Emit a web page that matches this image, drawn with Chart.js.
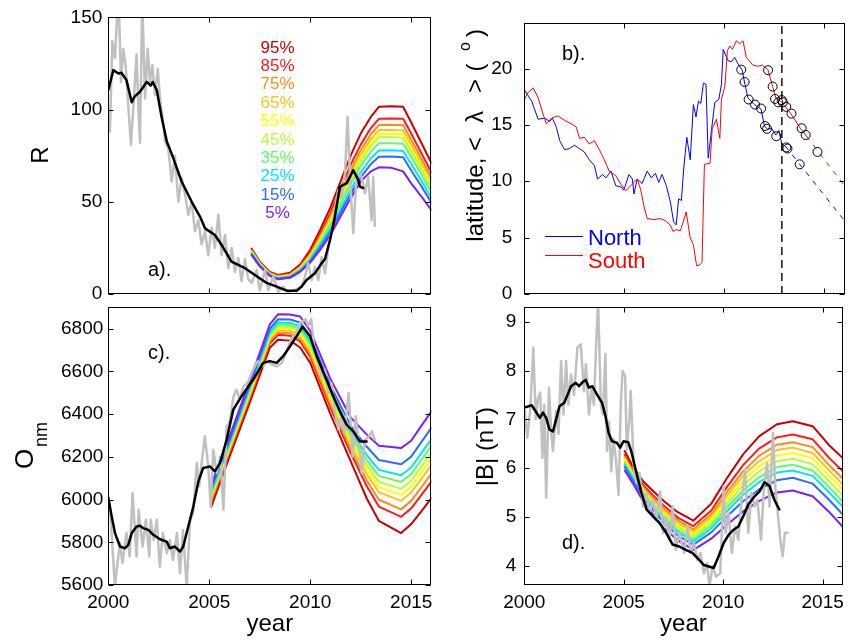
<!DOCTYPE html>
<html>
<head>
<meta charset="utf-8">
<script src="https://cdn.jsdelivr.net/npm/chart.js@4.4.1/dist/chart.umd.min.js"></script>
<style>
html, body { margin: 0; padding: 0; background: #fff; }
#wrap { position: relative; width: 850px; height: 644px; }
canvas { position: absolute; left: 0; top: 0; }
</style>
</head>
<body>
<div id="wrap">
<canvas id="ca" width="850" height="644"></canvas>
<canvas id="cb" width="850" height="644"></canvas>
<canvas id="cc" width="850" height="644"></canvas>
<canvas id="cd" width="850" height="644"></canvas>
</div>
<script>
// ---- data ----
const xTicks = [2000, 2005, 2010, 2015];
const pctLabels = ['5%', '15%', '25%', '35%', '45%', '55%', '65%', '75%', '85%', '95%'];
const pctColors = ['#7f1fff', '#2e6dff', '#00e5ff', '#5cff5c', '#b8ff33', '#ffff00', '#ffc21a', '#ff8c1a', '#ff1a1a', '#cc0000'];

// a) sunspot number R
const aTicks = [0, 50, 100, 150];
const aGray = [[2000.00,100],[2000.08,88],[2000.20,137],[2000.33,128],[2000.50,165],[2000.63,115],[2000.74,133],[2000.86,124],[2000.99,102],[2001.12,81],[2001.24,101],[2001.40,130],[2001.49,101],[2001.57,82],[2001.68,160],[2001.82,106],[2001.95,133],[2002.06,115],[2002.18,124],[2002.31,108],[2002.45,122],[2002.56,106],[2002.67,97],[2002.81,83],[2002.97,79],[2003.14,61],[2003.30,75],[2003.47,50],[2003.63,63],[2003.80,54],[2003.96,43],[2004.13,50],[2004.29,34],[2004.46,40],[2004.62,27],[2004.79,34],[2004.95,21],[2005.12,36],[2005.28,25],[2005.45,43],[2005.61,21],[2005.78,32],[2005.94,14],[2006.11,25],[2006.27,12],[2006.44,19.5],[2006.60,7],[2006.77,19],[2006.93,8],[2007.10,6],[2007.35,13],[2007.50,2],[2007.76,13],[2007.92,2],[2008.17,9.4],[2008.42,1.2],[2008.66,4],[2008.91,1.2],[2009.24,2.2],[2009.57,4],[2009.74,9.4],[2009.90,16.6],[2010.07,7.6],[2010.23,14.7],[2010.40,7.6],[2010.56,20],[2010.73,11.2],[2010.90,25.6],[2011.06,34.7],[2011.22,45.5],[2011.39,56.4],[2011.55,52],[2011.72,65.4],[2011.85,96],[2012.00,56.4],[2012.13,33],[2012.30,65.4],[2012.54,63.6],[2012.71,54.6],[2012.87,63.6],[2013.04,40],[2013.12,63.6],[2013.20,37]];
const aBlack = [[2000.00,110.6],[2000.25,121.4],[2000.50,119.6],[2000.65,120],[2000.90,116],[2001.16,104],[2001.30,107],[2001.57,109.7],[2001.90,115],[2002.10,113],[2002.20,115],[2002.40,110.6],[2002.64,96],[2002.90,82.6],[2003.14,76],[2003.63,61],[2004.13,50],[2004.54,42],[2004.79,35.6],[2005.28,32],[2005.61,26.6],[2006.10,17.5],[2006.77,14],[2007.26,10.3],[2007.84,6],[2008.34,4],[2008.83,1.8],[2009.33,1.8],[2009.57,4],[2009.82,7.6],[2010.23,11.2],[2010.56,16.6],[2010.73,19],[2010.98,29.3],[2011.22,41.9],[2011.47,58.2],[2011.80,60],[2011.97,63.6],[2012.13,67.2],[2012.38,61.8],[2012.46,58.2],[2012.62,57.5]];
const aYrs = [2007.1, 2007.5, 2008.0, 2008.4, 2009.0, 2009.5, 2010.0, 2010.5, 2011.0, 2011.5, 2012.0, 2012.5, 2013.0, 2013.4, 2014.0, 2014.6, 2015.0, 2015.5, 2016.0];
const a05 = [21.0, 15.0, 9.8, 8.0, 8.8, 12.0, 17.0, 24.0, 32.0, 42.0, 52.0, 61.0, 66.5, 68.7, 68.5, 66.5, 60.0, 53.0, 45.5];
const a15 = [21.5, 15.3, 10.0, 8.3, 9.1, 12.4, 17.8, 25.4, 34.0, 44.2, 54.3, 63.3, 70.4, 74.4, 74.5, 74.2, 67.0, 58.5, 49.5];
const a25 = [21.9, 15.5, 10.2, 8.5, 9.3, 12.8, 18.5, 26.6, 35.6, 46.0, 56.6, 66.0, 73.5, 77.8, 77.9, 77.5, 70.5, 61.5, 52.0];
const a35 = [22.3, 15.8, 10.4, 8.7, 9.6, 13.2, 19.3, 27.9, 37.5, 48.4, 59.6, 69.5, 77.2, 81.7, 81.8, 81.5, 74.4, 65.0, 55.0];
const a45 = [22.6, 16.1, 10.6, 8.9, 9.9, 13.6, 20.0, 29.0, 39.0, 50.3, 62.0, 72.3, 80.3, 85.0, 85.1, 84.8, 77.4, 67.8, 57.5];
const a55 = [22.9, 16.3, 10.8, 9.1, 10.1, 13.9, 20.4, 29.6, 39.8, 51.4, 63.3, 73.7, 82.0, 86.8, 86.9, 86.6, 79.0, 69.2, 59.0];
const a65 = [23.2, 16.5, 11.0, 9.3, 10.3, 14.2, 20.9, 30.4, 40.8, 52.7, 65.0, 75.5, 84.0, 88.9, 89.0, 88.7, 81.0, 71.0, 61.0];
const a75 = [23.6, 16.8, 11.3, 9.6, 10.6, 14.6, 21.6, 31.4, 42.2, 54.5, 67.0, 78.0, 86.5, 91.6, 91.8, 91.5, 83.5, 73.5, 63.0];
const a85 = [24.0, 17.1, 11.6, 9.9, 11.0, 15.2, 22.6, 32.8, 44.0, 57.0, 70.0, 81.0, 90.0, 95.0, 95.2, 95.0, 87.0, 76.5, 66.0];
const a95 = [24.5, 17.5, 12.0, 10.3, 11.5, 16.0, 24.0, 35.0, 47.0, 61.0, 75.0, 87.0, 96.0, 101.5, 101.8, 101.5, 93.0, 82.0, 71.0];

// b) mean latitude
const bTicks = [0, 5, 10, 15, 20];
const bNorth = [[2000.00,18.12],[2000.37,17.1],[2000.69,15.5],[2001.02,15.6],[2001.27,15.3],[2001.40,15.6],[2001.60,14.8],[2001.77,13.6],[2002.01,12.8],[2002.26,12.9],[2002.50,13.2],[2002.75,12.9],[2003.00,12.6],[2003.25,11.9],[2003.50,11.4],[2003.66,10.2],[2003.91,10.6],[2004.08,10.3],[2004.33,10.9],[2004.57,9.6],[2004.82,9.5],[2004.97,9.2],[2005.23,10.6],[2005.40,10.2],[2005.48,8.87],[2005.64,10.2],[2005.89,9.8],[2006.14,10.9],[2006.35,10.3],[2006.55,10.7],[2006.72,9.9],[2006.88,10.6],[2007.10,9.6],[2007.30,8.15],[2007.46,6.4],[2007.59,6.13],[2007.71,8.44],[2007.85,8.3],[2007.96,11.0],[2008.12,13.9],[2008.29,11.9],[2008.45,16.8],[2008.58,15.7],[2008.70,17.1],[2008.82,16.9],[2008.95,18.7],[2009.08,18.6],[2009.19,12.05],[2009.36,14.65],[2009.52,17.0],[2009.72,17.25],[2009.85,18.6],[2009.94,21.7],[2010.18,20.7],[2010.35,20.6],[2010.51,21.0],[2010.68,20.4],[2010.89,19.85],[2011.00,18.8],[2011.17,17.4],[2011.50,16.8],[2011.83,16.4],[2012.00,14.9],[2012.16,14.6],[2012.35,14.7],[2012.57,14.1],[2012.72,14.5],[2012.87,13.3],[2013.05,13.1]];
const bNorthFc = [[2013.05,13.1],[2016.0,6.5]];
const bSouth = [[2000.00,17.25],[2000.20,17.9],[2000.45,18.27],[2000.69,17.4],[2000.94,15.95],[2001.10,15.1],[2001.36,15.6],[2001.68,15.8],[2002.01,15.4],[2002.35,15.1],[2002.60,14.8],[2002.76,13.8],[2003.00,13.9],[2003.25,13.3],[2003.50,13.6],[2003.75,12.8],[2004.00,11.9],[2004.24,10.9],[2004.57,10.5],[2004.82,9.74],[2005.07,9.16],[2005.32,9.6],[2005.64,10.2],[2005.81,9.3],[2005.97,7.86],[2006.14,6.7],[2006.47,6.6],[2006.80,6.7],[2007.05,6.5],[2007.30,6.1],[2007.43,5.55],[2007.60,5.7],[2007.80,5.6],[2008.09,7.28],[2008.29,4.97],[2008.45,4.4],[2008.61,2.5],[2008.78,2.6],[2008.88,2.8],[2009.00,11.5],[2009.28,11.6],[2009.39,14.65],[2009.60,15.5],[2009.77,13.8],[2009.85,17.25],[2010.02,18.4],[2010.15,21.6],[2010.27,22.0],[2010.40,21.7],[2010.60,22.45],[2010.75,22.2],[2010.93,22.45],[2011.09,21.0],[2011.42,20.3],[2011.67,20.2],[2011.90,20.3],[2012.17,19.9],[2012.41,18.4],[2012.57,17.4],[2012.82,17.1],[2013.00,16.7],[2013.32,16.0],[2013.81,14.65],[2014.10,14.0]];
const bSouthFc = [[2014.10,14.0],[2016.0,9.6]];
const bCircN = [[2010.84,19.9],[2011.01,18.8],[2011.21,17.25],[2011.53,16.8],[2011.83,16.45],[2012.03,14.9],[2012.13,14.65],[2012.59,14.0],[2013.09,13.0],[2013.15,12.9],[2013.76,11.5]];
const bCircS = [[2012.18,19.85],[2012.41,18.4],[2012.53,17.3],[2012.69,17.0],[2012.86,17.2],[2012.92,17.0],[2013.09,16.6],[2013.35,16.0],[2013.86,14.7],[2014.06,14.1],[2014.65,12.6]];
const bNow = 2012.87;

// c) neutron monitor count
const cTicks = [5600, 5800, 6000, 6200, 6400, 6600, 6800];
const cGray = [[2000.00,5990],[2000.10,5936],[2000.33,5590],[2000.45,5700],[2000.58,5796],[2000.70,5703],[2000.90,5843],[2001.06,5734],[2001.20,6030],[2001.40,5734],[2001.50,5952],[2001.70,5780],[2001.86,5905],[2002.03,5734],[2002.10,5905],[2002.25,5811],[2002.40,5905],[2002.55,5686],[2002.70,5843],[2002.90,5749],[2003.05,5811],[2003.20,5717],[2003.40,5843],[2003.55,5655],[2003.70,5858],[2003.88,5590],[2004.05,5905],[2004.20,5936],[2004.38,6171],[2004.50,6062],[2004.60,6155],[2004.78,6296],[2004.95,6155],[2005.07,5967],[2005.20,6233],[2005.37,6124],[2005.55,6202],[2005.70,5952],[2005.86,6343],[2006.00,6358],[2006.20,6484],[2006.35,6515],[2006.50,6468],[2006.70,6531],[2006.90,6546],[2007.18,6609],[2007.40,6648],[2007.67,6624],[2007.85,6648],[2008.10,6632],[2008.35,6624],[2008.60,6640],[2008.80,6687],[2009.05,6750],[2009.30,6781],[2009.50,6828],[2009.77,6844],[2009.90,6812],[2010.05,6844],[2010.20,6703],[2010.40,6640],[2010.55,6578],[2010.72,6609],[2010.90,6499],[2011.05,6546],[2011.20,6421],[2011.40,6327],[2011.55,6390],[2011.70,6311],[2011.90,6499],[2012.10,6202],[2012.25,6390],[2012.45,6233],[2012.55,6124],[2012.72,6280],[2012.90,6296],[2013.05,6319],[2013.20,6280]];
const cBlack = [[2000.00,6010],[2000.17,5920],[2000.33,5843],[2000.58,5780],[2000.83,5772],[2000.99,5788],[2001.16,5843],[2001.40,5874],[2001.57,5877],[2001.73,5866],[2001.98,5858],[2002.23,5835],[2002.56,5814],[2002.89,5803],[2003.05,5772],[2003.30,5780],[2003.55,5756],[2003.71,5780],[2003.96,5874],[2004.21,5967],[2004.46,6085],[2004.70,6148],[2005.03,6155],[2005.28,6132],[2005.53,6171],[2005.86,6280],[2006.19,6421],[2006.60,6484],[2007.18,6562],[2007.67,6640],[2008.00,6648],[2008.34,6640],[2008.66,6671],[2009.00,6718],[2009.33,6765],[2009.62,6809],[2009.99,6765],[2010.32,6671],[2010.73,6578],[2011.14,6484],[2011.47,6413],[2011.80,6351],[2012.13,6319],[2012.46,6272],[2012.79,6272]];
const cYrs = [2005.1, 2006, 2007, 2008, 2008.4, 2009, 2009.5, 2010, 2011, 2012, 2012.8, 2013.4, 2014.5, 2015, 2015.5, 2016];
const c05 = [6069, 6295, 6553, 6820, 6867, 6866, 6857, 6790, 6565, 6385, 6304, 6252, 6241, 6275, 6345, 6413];
const c15 = [6050, 6277, 6534, 6799, 6844, 6843, 6829, 6762, 6534, 6346, 6247, 6185, 6165, 6201, 6269, 6336];
const c25 = [6036, 6265, 6521, 6785, 6829, 6827, 6811, 6742, 6512, 6319, 6208, 6139, 6114, 6150, 6217, 6283];
const c35 = [6028, 6257, 6513, 6776, 6819, 6817, 6799, 6730, 6499, 6303, 6184, 6111, 6082, 6119, 6185, 6251];
const c45 = [6020, 6249, 6505, 6768, 6810, 6807, 6787, 6718, 6486, 6287, 6160, 6083, 6050, 6088, 6153, 6218];
const c55 = [6013, 6243, 6497, 6760, 6802, 6799, 6777, 6708, 6474, 6272, 6140, 6058, 6022, 6060, 6125, 6190];
const c65 = [6006, 6236, 6490, 6752, 6793, 6790, 6767, 6697, 6463, 6258, 6119, 6034, 5994, 6033, 6097, 6161];
const c75 = [5996, 6227, 6480, 6742, 6781, 6778, 6753, 6682, 6446, 6237, 6089, 5999, 5954, 5994, 6057, 6121];
const c85 = [5986, 6218, 6471, 6732, 6771, 6767, 6740, 6669, 6431, 6219, 6062, 5967, 5919, 5959, 6021, 6084];
const c95 = [5967, 6200, 6452, 6711, 6748, 6744, 6712, 6640, 6400, 6180, 6005, 5900, 5843, 5885, 5945, 6007];

// d) interplanetary field |B|
const dTicks = [4, 5, 6, 7, 8, 9];
const dGray = [[2000.00,7.0],[2000.03,7.17],[2000.15,6.62],[2000.30,7.2],[2000.45,8.47],[2000.58,7.0],[2000.69,7.44],[2000.80,7.55],[2000.91,6.21],[2001.00,7.3],[2001.10,5.39],[2001.24,7.65],[2001.35,6.76],[2001.44,6.35],[2001.60,7.17],[2001.72,6.7],[2001.85,8.2],[2001.97,7.1],[2002.10,8.2],[2002.22,7.3],[2002.35,7.92],[2002.50,7.5],[2002.67,8.47],[2002.84,8.54],[2003.00,7.58],[2003.10,8.13],[2003.25,7.1],[2003.38,7.65],[2003.50,7.3],[2003.61,8.54],[2003.71,9.4],[2003.85,7.3],[2003.95,7.1],[2004.08,8.34],[2004.16,6.35],[2004.26,6.95],[2004.37,5.93],[2004.48,6.6],[2004.60,6.2],[2004.74,5.45],[2004.85,7.31],[2004.94,7.99],[2005.07,7.89],[2005.15,6.38],[2005.28,7.0],[2005.35,7.58],[2005.50,6.05],[2005.64,5.7],[2005.80,5.9],[2005.97,5.21],[2006.14,5.49],[2006.30,5.08],[2006.47,5.35],[2006.63,4.94],[2006.83,5.52],[2006.97,4.67],[2007.13,5.0],[2007.30,4.53],[2007.46,5.21],[2007.62,4.32],[2007.79,4.67],[2008.04,4.26],[2008.20,4.8],[2008.37,4.26],[2008.53,4.46],[2008.70,4.12],[2008.86,4.26],[2009.03,3.84],[2009.20,4.05],[2009.30,3.55],[2009.47,3.98],[2009.64,3.77],[2009.85,3.84],[2010.02,5.63],[2010.12,4.67],[2010.27,5.08],[2010.43,4.26],[2010.60,4.8],[2010.76,4.53],[2010.92,5.35],[2011.10,5.97],[2011.26,4.67],[2011.42,5.49],[2011.58,5.21],[2011.72,5.35],[2011.90,4.53],[2012.05,5.63],[2012.21,6.11],[2012.33,5.21],[2012.50,6.72],[2012.62,5.63],[2012.74,5.08],[2012.87,4.53],[2012.99,4.19],[2013.10,4.67],[2013.24,4.67]];
const dBlack = [[2000.00,7.24],[2000.37,7.29],[2000.61,7.14],[2000.78,7.03],[2000.94,7.14],[2001.10,7.03],[2001.27,6.79],[2001.44,6.75],[2001.60,7.0],[2001.77,7.27],[2002.01,7.34],[2002.18,7.51],[2002.35,7.68],[2002.59,7.75],[2002.75,7.68],[2002.92,7.76],[2003.09,7.81],[2003.25,7.65],[2003.42,7.68],[2003.66,7.51],[2003.91,7.34],[2004.08,7.07],[2004.24,6.72],[2004.41,6.55],[2004.65,6.52],[2004.82,6.42],[2004.99,6.55],[2005.23,6.53],[2005.40,6.31],[2005.64,5.9],[2005.89,5.49],[2006.14,5.15],[2006.47,5.01],[2006.80,4.87],[2007.13,4.67],[2007.46,4.43],[2007.79,4.39],[2008.12,4.32],[2008.45,4.26],[2008.78,4.12],[2009.03,4.01],[2009.28,3.98],[2009.52,3.95],[2009.77,4.19],[2010.02,4.46],[2010.27,4.63],[2010.51,4.73],[2010.76,4.8],[2011.01,5.01],[2011.26,5.25],[2011.58,5.42],[2011.83,5.52],[2012.08,5.71],[2012.33,5.63],[2012.57,5.35],[2012.82,5.15]];
const dYrs = [2005.05, 2005.5, 2006, 2006.5, 2007, 2007.7, 2008.5, 2009.4, 2010.2, 2011, 2011.8, 2012.7, 2013.5, 2014.5, 2015.3, 2016];
const d05 = [5.95, 5.66, 5.30, 5.03, 4.78, 4.52, 4.32, 4.55, 4.84, 5.11, 5.32, 5.50, 5.54, 5.42, 5.11, 4.80];
const d15 = [6.02, 5.72, 5.38, 5.12, 4.88, 4.62, 4.43, 4.68, 5.01, 5.32, 5.56, 5.75, 5.80, 5.68, 5.36, 5.05];
const d25 = [6.07, 5.76, 5.42, 5.17, 4.94, 4.69, 4.49, 4.76, 5.12, 5.45, 5.71, 5.91, 5.95, 5.84, 5.51, 5.21];
const d35 = [6.10, 5.79, 5.46, 5.21, 4.98, 4.73, 4.54, 4.82, 5.20, 5.54, 5.81, 6.02, 6.07, 5.95, 5.62, 5.32];
const d45 = [6.13, 5.82, 5.49, 5.26, 5.03, 4.79, 4.60, 4.88, 5.28, 5.65, 5.93, 6.14, 6.19, 6.08, 5.74, 5.45];
const d55 = [6.17, 5.84, 5.53, 5.29, 5.08, 4.83, 4.64, 4.94, 5.36, 5.74, 6.04, 6.26, 6.31, 6.20, 5.85, 5.56];
const d65 = [6.20, 5.87, 5.56, 5.33, 5.12, 4.88, 4.69, 5.00, 5.44, 5.84, 6.14, 6.37, 6.42, 6.31, 5.96, 5.67];
const d75 = [6.23, 5.90, 5.59, 5.37, 5.17, 4.93, 4.74, 5.05, 5.51, 5.93, 6.25, 6.48, 6.53, 6.43, 6.07, 5.79];
const d85 = [6.27, 5.94, 5.64, 5.43, 5.23, 4.99, 4.81, 5.13, 5.62, 6.06, 6.40, 6.63, 6.69, 6.59, 6.22, 5.94];
const d95 = [6.35, 6.00, 5.72, 5.52, 5.33, 5.10, 4.92, 5.27, 5.80, 6.28, 6.65, 6.90, 6.96, 6.86, 6.48, 6.21];

// ---- helpers ----
const FONT = '"Liberation Sans", Arial, Helvetica, sans-serif';
Chart.defaults.font.family = FONT;
Chart.defaults.color = '#000';

function pairs(arr) { return arr.map(p => ({x: p[0], y: p[1]})); }
function zip(xs, ys) { return xs.map((x, i) => ({x: x, y: ys[i]})); }

function line(data, color, width, order, extra) {
  return Object.assign({
    data: data, borderColor: color, backgroundColor: color, borderWidth: width,
    pointRadius: 0, pointHoverRadius: 0, showLine: true, order: order, clip: 0,
    borderJoinStyle: 'round', borderCapStyle: 'round'
  }, extra || {});
}

function rainbow(yrs, sets) {
  return sets.map((vals, i) => line(zip(yrs, vals), pctColors[i], 2, 2));
}

function txt(ctx, s, x, y, size, color, align) {
  ctx.font = size + 'px ' + FONT;
  ctx.fillStyle = color || '#000';
  ctx.textAlign = align || 'left';
  ctx.textBaseline = 'alphabetic';
  ctx.fillText(s, x, y);
}
function rtxt(ctx, s, x, y, size, align) {
  ctx.save();
  ctx.translate(x, y);
  ctx.rotate(-Math.PI / 2);
  txt(ctx, s, 0, 0, size, '#000', align);
  ctx.restore();
}

// frame with inward ticks on all four sides, like matlab axes
function frame(extra) {
  return {
    id: 'frame',
    afterDatasetsDraw(chart) {
      const ctx = chart.ctx, a = chart.chartArea, sx = chart.scales.x, sy = chart.scales.y;
      const L = Math.round(a.left) + 0.5, R = Math.round(a.right) - 0.5;
      const T = Math.round(a.top) + 0.5, B = Math.round(a.bottom) - 0.5;
      ctx.save();
      ctx.strokeStyle = '#000';
      ctx.lineWidth = 1;
      ctx.strokeRect(L, T, R - L, B - T);
      ctx.beginPath();
      sx.ticks.forEach(t => {
        const p = Math.round(sx.getPixelForValue(t.value)) + 0.5;
        ctx.moveTo(p, B); ctx.lineTo(p, B - 5);
        ctx.moveTo(p, T); ctx.lineTo(p, T + 5);
      });
      sy.ticks.forEach(t => {
        const p = Math.round(sy.getPixelForValue(t.value)) + 0.5;
        ctx.moveTo(L, p); ctx.lineTo(L + 5, p);
        ctx.moveTo(R, p); ctx.lineTo(R - 5, p);
      });
      ctx.stroke();
      if (extra) extra(ctx, chart);
      ctx.restore();
    }
  };
}

function makeChart(id, box, yMin, yMax, yTicks, yPad, showX, datasets, extra) {
  const xh = showX ? 40 : 10;
  return new Chart(document.getElementById(id), {
    type: 'scatter',
    data: {datasets: datasets},
    options: {
      responsive: false, animation: false, events: [],
      layout: {padding: {left: box.l - 60, right: 850 - box.r, top: box.t, bottom: 644 - box.b - xh}},
      plugins: {legend: {display: false}, tooltip: {enabled: false}},
      scales: {
        x: {
          type: 'linear', min: 2000, max: 2016,
          afterBuildTicks: s => { s.ticks = xTicks.map(v => ({value: v})); },
          afterFit: s => { s.height = xh; },
          grid: {display: false, drawTicks: false}, border: {display: false},
          ticks: {display: showX, padding: 6, autoSkip: false, maxRotation: 0,
                  font: {size: 19}, color: '#000', callback: v => String(v)}
        },
        y: {
          type: 'linear', min: yMin, max: yMax,
          afterBuildTicks: s => { s.ticks = yTicks.map(v => ({value: v})); },
          afterFit: s => { s.width = 60; },
          grid: {display: false, drawTicks: false}, border: {display: false},
          ticks: {padding: yPad, autoSkip: false, font: {size: 19}, color: '#000', callback: v => String(v)}
        }
      }
    },
    plugins: [frame(extra)]
  });
}

const boxA = {l: 108.3, r: 431.4, t: 17.3, b: 294};
const boxB = {l: 524.3, r: 846.7, t: 17.3, b: 294};
const boxC = {l: 108.3, r: 431.4, t: 307.3, b: 585};
const boxD = {l: 524.3, r: 846.7, t: 307.3, b: 585};

// ---- a) ----
makeChart('ca', boxA, 0, 150, aTicks, 6, false, [
  line(pairs(aBlack), '#000', 2.5, 0),
  line(pairs(aGray), '#c0c0c0', 2.5, 1)
].concat(rainbow(aYrs, [a05, a15, a25, a35, a45, a55, a65, a75, a85, a95])), (ctx) => {
  for (let i = 0; i < pctLabels.length; i++) {
    const k = pctLabels.length - 1 - i;
    txt(ctx, pctLabels[k], 277.5, 52.5 + i * 18.4, 17, pctColors[k], 'center');
  }
  txt(ctx, 'a).', 148, 276, 20);
  rtxt(ctx, 'R', 48, 155, 24, 'center');
});

// ---- b) ----
makeChart('cb', boxB, 0, 24, bTicks, 12, false, [
  line(pairs(bCircN).concat(pairs(bCircS)), '#000', 1, 0, {showLine: false, pointRadius: 4.5,
    pointBorderColor: '#000', pointBackgroundColor: 'rgba(0,0,0,0)', pointBorderWidth: 1}),
  line([{x: bNow, y: 0}, {x: bNow, y: 24}], '#000', 1.4, 1, {borderDash: [8, 5], borderCapStyle: 'butt'}),
  line(pairs(bSouth), '#ff0000', 1, 2),
  line(pairs(bSouthFc), '#ff0000', 1, 2, {borderDash: [5, 6], borderCapStyle: 'butt'}),
  line(pairs(bNorth), '#0000ff', 1, 3),
  line(pairs(bNorthFc), '#0000ff', 1, 3, {borderDash: [5, 6], borderCapStyle: 'butt'})
], (ctx) => {
  txt(ctx, 'b).', 562, 59.5, 20);
  ctx.lineWidth = 1;
  ctx.strokeStyle = '#0000ff';
  ctx.beginPath(); ctx.moveTo(545, 236.5); ctx.lineTo(583, 236.5); ctx.stroke();
  ctx.strokeStyle = '#ff0000';
  ctx.beginPath(); ctx.moveTo(545, 255.5); ctx.lineTo(583, 255.5); ctx.stroke();
  txt(ctx, 'North', 588, 244.5, 22, '#0000ff');
  txt(ctx, 'South', 588, 267.5, 22, '#ff0000');
  // y label: latitude, < lambda > (o)
  rtxt(ctx, 'latitude,', 482.5, 241.7, 24, 'left');
  rtxt(ctx, '<', 482.5, 151, 24, 'left');
  rtxt(ctx, '\u03bb', 482.5, 123, 24, 'left');
  rtxt(ctx, '>', 482.5, 93, 24, 'left');
  rtxt(ctx, '(', 482.5, 71.5, 24, 'left');
  rtxt(ctx, 'o', 470, 51, 16, 'left');
  rtxt(ctx, ')', 482.5, 37, 24, 'left');
});

// ---- c) ----
makeChart('cc', boxC, 5600, 6900, cTicks, 5, true, [
  line(pairs(cBlack), '#000', 2.5, 0),
  line(pairs(cGray), '#c0c0c0', 2.5, 1)
].concat(rainbow(cYrs, [c05, c15, c25, c35, c45, c55, c65, c75, c85, c95])), (ctx, chart) => {
  txt(ctx, 'c).', 148, 359, 20);
  rtxt(ctx, 'O', 33.3, 469, 26, 'left');
  rtxt(ctx, 'nm', 46.5, 447, 18, 'left');
  const a = chart.chartArea;
  txt(ctx, 'year', (a.left + a.right) / 2, 631, 24, '#000', 'center');
});

// ---- d) ----
makeChart('cd', boxD, 3.6, 9.3, dTicks, 8, true, [
  line(pairs(dBlack), '#000', 2.5, 0),
  line(pairs(dGray), '#c0c0c0', 2.5, 1)
].concat(rainbow(dYrs, [d05, d15, d25, d35, d45, d55, d65, d75, d85, d95])), (ctx, chart) => {
  txt(ctx, 'd).', 562, 549, 20);
  rtxt(ctx, '|B| (nT)', 493, 446.7, 24, 'center');
  const a = chart.chartArea;
  txt(ctx, 'year', (a.left + a.right) / 2, 631, 24, '#000', 'center');
});
</script>
</body>
</html>
